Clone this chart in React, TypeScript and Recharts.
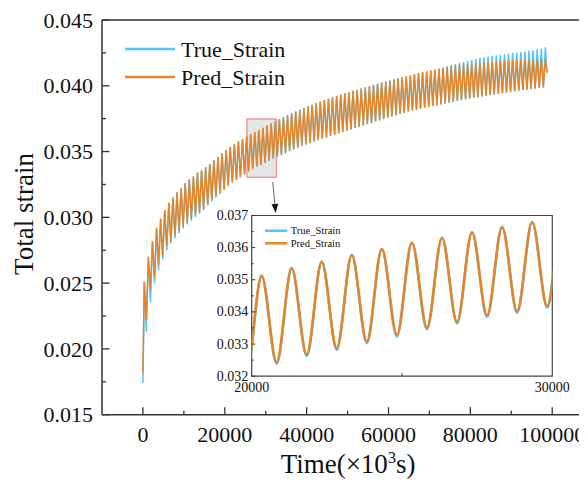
import React from 'react';
import { LineChart, Line, XAxis, YAxis, ReferenceArea, ReferenceLine, Legend } from 'recharts';

const TRUE_COLOR = '#4FC6F8';
const PRED_COLOR = '#E5852B';
const AXIS_COLOR = '#333333';
const FONT = '"Liberation Serif", "Times New Roman", serif';

// time layout of the loading cycles (x10^3 s)
const cyclePeriod = 1000;
const peakOffset = 330;
const troughOffset = 830;

const startTime = 0;
const startTrue = 0.0174;
const startPred = 0.0182;
const endTime = 98700;
const endTrue = 0.041;
const endPred = 0.041;

// peak strain of each cycle
const predPeaks = [
  0.0251, 0.027, 0.0282, 0.0292, 0.0299, 0.03055, 0.0311, 0.0315, 0.0319, 0.0322,
  0.0326, 0.0329, 0.0331, 0.0334, 0.0336, 0.0338, 0.03406, 0.03433, 0.03459, 0.03486,
  0.03512, 0.03536, 0.03556, 0.03577, 0.03596, 0.03616, 0.03631, 0.03648, 0.03664, 0.0368,
  0.03697, 0.03714, 0.0373, 0.03746, 0.03761, 0.03776, 0.0379, 0.03804, 0.03818, 0.03831,
  0.03844, 0.03856, 0.03868, 0.0388, 0.03891, 0.03902, 0.03913, 0.03923, 0.03933, 0.03943,
  0.03952, 0.03961, 0.0397, 0.03979, 0.03988, 0.03997, 0.04006, 0.04015, 0.04024, 0.04032,
  0.0404, 0.04048, 0.04056, 0.04064, 0.04072, 0.0408, 0.04088, 0.04096, 0.04104, 0.04111,
  0.04118, 0.04124, 0.0413, 0.04136, 0.04142, 0.04148, 0.04153, 0.04158, 0.04162, 0.04166,
  0.0417, 0.04173, 0.04176, 0.04179, 0.04182, 0.04184, 0.04187, 0.04189, 0.04191, 0.04193,
  0.04195, 0.04197, 0.04198, 0.042, 0.04201, 0.04202, 0.04203, 0.04204, 0.04205,
];
const truePeaks = [
  0.0251, 0.027, 0.0282, 0.0292, 0.0299, 0.03055, 0.0311, 0.0315, 0.0319, 0.0322,
  0.0326, 0.0329, 0.0331, 0.0334, 0.0336, 0.0338, 0.03406, 0.03433, 0.03459, 0.03486,
  0.03512, 0.03536, 0.03556, 0.03577, 0.03596, 0.03616, 0.03631, 0.03648, 0.03664, 0.0368,
  0.03697, 0.03714, 0.0373, 0.03746, 0.03761, 0.03776, 0.0379, 0.03804, 0.03818, 0.03831,
  0.03844, 0.03856, 0.03868, 0.0388, 0.03891, 0.03902, 0.03913, 0.03923, 0.03933, 0.03943,
  0.03952, 0.03961, 0.0397, 0.03979, 0.03988, 0.03997, 0.04006, 0.04015, 0.04024, 0.04032,
  0.0404, 0.04048, 0.04056, 0.04064, 0.04072, 0.0408, 0.04088, 0.04096, 0.04104, 0.04111,
  0.04118, 0.04124, 0.04132, 0.0414, 0.04149, 0.04158, 0.04166, 0.04174, 0.04182, 0.04189,
  0.04196, 0.04203, 0.0421, 0.04217, 0.04222, 0.04227, 0.04232, 0.04236, 0.0424, 0.04245,
  0.04249, 0.04253, 0.04257, 0.04262, 0.04267, 0.04272, 0.04278, 0.04284, 0.04292,
];
// valley strain of each cycle
const predTroughs = [
  0.0222, 0.0245, 0.0254, 0.0264, 0.0271, 0.0278, 0.0282, 0.0286, 0.02895, 0.0293,
  0.0296, 0.02988, 0.03015, 0.0304, 0.03065, 0.031, 0.0313, 0.03158, 0.03186, 0.03215,
  0.03244, 0.03268, 0.03287, 0.03308, 0.03329, 0.03351, 0.03369, 0.03389, 0.03402, 0.03418,
  0.03433, 0.03447, 0.03462, 0.03476, 0.0349, 0.03504, 0.03518, 0.03532, 0.03545, 0.03556,
  0.03567, 0.03578, 0.03588, 0.03599, 0.03609, 0.03619, 0.0363, 0.0364, 0.0365, 0.0366,
  0.0367, 0.0368, 0.0369, 0.037, 0.0371, 0.03719, 0.03729, 0.03738, 0.03748, 0.03758,
  0.03767, 0.03777, 0.03787, 0.03796, 0.03806, 0.03813, 0.0382, 0.03827, 0.03834, 0.0384,
  0.03847, 0.03854, 0.0386, 0.03867, 0.03873, 0.03881, 0.03887, 0.03893, 0.03899, 0.03904,
  0.0391, 0.03915, 0.0392, 0.03926, 0.03931, 0.03936, 0.0394, 0.03945, 0.0395, 0.03955,
  0.03959, 0.03964, 0.03968, 0.03972, 0.03976, 0.0398, 0.03984, 0.03988,
];
const trueTroughs = [
  0.0213, 0.02353, 0.025, 0.026, 0.0268, 0.0275, 0.028, 0.0284, 0.0288, 0.02915,
  0.02946, 0.02975, 0.03003, 0.03029, 0.03055, 0.0309, 0.0312, 0.03149, 0.03178, 0.03209,
  0.03239, 0.03263, 0.03282, 0.03303, 0.03324, 0.03346, 0.03364, 0.03384, 0.03397, 0.03413,
  0.03429, 0.03443, 0.03458, 0.03472, 0.03486, 0.035, 0.03514, 0.03528, 0.03541, 0.03552,
  0.03563, 0.03575, 0.03585, 0.03596, 0.03606, 0.03616, 0.03627, 0.03637, 0.03647, 0.03657,
  0.03667, 0.03677, 0.03687, 0.03697, 0.03707, 0.03716, 0.03726, 0.03735, 0.03745, 0.03755,
  0.03764, 0.03774, 0.03784, 0.03793, 0.03803, 0.0381, 0.03817, 0.03824, 0.03831, 0.03837,
  0.03844, 0.03851, 0.03857, 0.03864, 0.0387, 0.03878, 0.03884, 0.0389, 0.03896, 0.03901,
  0.03907, 0.03912, 0.03917, 0.03923, 0.03928, 0.03933, 0.03937, 0.03942, 0.03947, 0.03952,
  0.03956, 0.03961, 0.03965, 0.03969, 0.03973, 0.03977, 0.03981, 0.03985,
];

const mainXTicks = [0, 10000, 20000, 30000, 40000, 50000, 60000, 70000, 80000, 90000, 100000];
const mainXLabelTicks = [0, 20000, 40000, 60000, 80000, 100000];
const mainYTicks = [0.015, 0.0175, 0.02, 0.0225, 0.025, 0.0275, 0.03, 0.0325, 0.035, 0.0375, 0.04, 0.0425, 0.045];
const mainYLabelTicks = [0.015, 0.02, 0.025, 0.03, 0.035, 0.04, 0.045];
const insetXTicks = [20000, 25000, 30000];
const insetXLabelTicks = [20000, 30000];
const insetYTicks = [0.032, 0.0325, 0.033, 0.0335, 0.034, 0.0345, 0.035, 0.0355, 0.036, 0.0365, 0.037];
const insetYLabelTicks = [0.032, 0.033, 0.034, 0.035, 0.036, 0.037];

const seriesNames = ['True_Strain', 'Pred_Strain'];

// zoom window and arrow annotation (data coordinates)
const zoomBox = { x1: 25430, x2: 32620, y1: 0.03305, y2: 0.03748 };
const arrowSeg = [
  { x: 31710, y: 0.03269 },
  { x: 32440, y: 0.03033 },
];

type Row = { t: number; trueS: number; predS: number };

function buildRows(): Row[] {
  const rows: Row[] = [{ t: startTime, trueS: startTrue, predS: startPred }];
  for (let k = 0; k < predPeaks.length; k++) {
    rows.push({ t: peakOffset + k * cyclePeriod, trueS: truePeaks[k], predS: predPeaks[k] });
    if (k < predTroughs.length) {
      rows.push({ t: troughOffset + k * cyclePeriod, trueS: trueTroughs[k], predS: predTroughs[k] });
    }
  }
  rows.push({ t: endTime, trueS: endTrue, predS: endPred });
  return rows;
}

const rows = buildRows();
const insetRows = rows.filter((r) => r.t >= 19000 && r.t <= 31000);

const isIn = (arr: number[], v: number) => arr.some((a) => Math.abs(a - v) < 1e-9);

const txt = (size: number): React.CSSProperties => ({ fontFamily: FONT, fontSize: size, fill: '#111' });

const MainXTick = (p: any) => {
  const { x, y, payload } = p;
  const major = isIn(mainXLabelTicks, payload.value);
  return (
    <g>
      <line x1={x} y1={y} x2={x} y2={y - (major ? 7.5 : 4)} stroke={AXIS_COLOR} strokeWidth={1.3} />
      {major && (
        <text x={x} y={y + 26.8} textAnchor="middle" style={txt(22)}>
          {payload.value}
        </text>
      )}
    </g>
  );
};

const MainYTick = (p: any) => {
  const { x, y, payload } = p;
  const major = isIn(mainYLabelTicks, payload.value);
  return (
    <g>
      <line x1={x} y1={y} x2={x + (major ? 7.5 : 4)} y2={y} stroke={AXIS_COLOR} strokeWidth={1.3} />
      {major && (
        <text x={x - 9} y={y} dy="0.35em" textAnchor="end" style={txt(22)}>
          {Number(payload.value).toFixed(3)}
        </text>
      )}
    </g>
  );
};

const InsetXTick = (p: any) => {
  const { x, y, payload } = p;
  const labeled = isIn(insetXLabelTicks, payload.value);
  return (
    <g>
      {!labeled && <line x1={x} y1={y} x2={x} y2={y - 3} stroke={AXIS_COLOR} strokeWidth={1} />}
      {labeled && (
        <text x={x} y={y + 15.5} textAnchor="middle" style={txt(14)}>
          {payload.value}
        </text>
      )}
    </g>
  );
};

const InsetYTick = (p: any) => {
  const { x, y, payload } = p;
  const major = isIn(insetYLabelTicks, payload.value);
  return (
    <g>
      <line x1={x} y1={y} x2={x + (major ? 3.5 : 2)} y2={y} stroke={AXIS_COLOR} strokeWidth={1} />
      {major && (
        <text x={x - 3.4} y={y} dy="0.32em" textAnchor="end" style={txt(14)}>
          {Number(payload.value).toFixed(3)}
        </text>
      )}
    </g>
  );
};

const ArrowShape = (p: any) => {
  const { x1, y1, x2, y2 } = p;
  const ang = Math.atan2(y2 - y1, x2 - x1);
  const L = 9;
  const W = 3.3;
  const bx = x2 - L * Math.cos(ang);
  const by = y2 - L * Math.sin(ang);
  const px = -Math.sin(ang) * W;
  const py = Math.cos(ang) * W;
  return (
    <g>
      <line x1={x1} y1={y1} x2={bx} y2={by} stroke="#555" strokeWidth={0.9} />
      <polygon points={`${x2},${y2} ${bx + px},${by + py} ${bx - px},${by - py}`} fill="#111" />
    </g>
  );
};

const MainLegend = () => (
  <svg width={230} height={62} style={{ display: 'block' }}>
    <line x1={5} y1={19} x2={55} y2={19} stroke={TRUE_COLOR} strokeWidth={2.5} />
    <text x={61} y={26.5} style={txt(22)}>{seriesNames[0]}</text>
    <line x1={5} y1={47} x2={55} y2={47} stroke={PRED_COLOR} strokeWidth={2.5} />
    <text x={61} y={54.5} style={txt(22)}>{seriesNames[1]}</text>
  </svg>
);

const InsetLegend = () => (
  <svg width={110} height={30} style={{ display: 'block' }}>
    <line x1={3} y1={8.7} x2={25.3} y2={8.7} stroke={TRUE_COLOR} strokeWidth={2.5} />
    <text x={28.7} y={12.4} style={txt(10.5)}>{seriesNames[0]}</text>
    <line x1={3} y1={21.3} x2={25.3} y2={21.3} stroke={PRED_COLOR} strokeWidth={2.5} />
    <text x={28.7} y={25} style={txt(10.5)}>{seriesNames[1]}</text>
  </svg>
);

const XTitle = () => (
  <text x={340} y={465} textAnchor="middle" style={txt(27)}>
    Time(×10<tspan dy={-10} style={{ fontSize: 16 }}>3</tspan><tspan dy={10}>s)</tspan>
  </text>
);

const YTitle = () => (
  <text x={25} y={206} transform="rotate(-90, 25, 206)" textAnchor="middle" style={txt(27)}>
    Total strain
  </text>
);

export default function App() {
  return (
    <div style={{ position: 'relative', width: 579, height: 481, fontFamily: FONT }}>
      <LineChart width={579} height={481} data={rows} margin={{ top: 12, right: 0, bottom: 0, left: 0 }}>
        <XAxis
          type="number"
          dataKey="t"
          domain={[-10000, 108500]}
          allowDataOverflow
          ticks={mainXTicks}
          interval={0}
          height={74.3}
          tickSize={0}
          tickMargin={0}
          tickLine={false}
          tick={MainXTick}
          axisLine={{ stroke: AXIS_COLOR, strokeWidth: 1.5 }}
          label={XTitle}
        />
        <YAxis
          type="number"
          domain={[0.015, 0.045]}
          allowDataOverflow
          ticks={mainYTicks}
          interval={0}
          width={94}
          tickSize={0}
          tickMargin={0}
          tickLine={false}
          tick={MainYTick}
          axisLine={{ stroke: AXIS_COLOR, strokeWidth: 1.5 }}
          label={YTitle}
        />
        <ReferenceLine y={0.045} stroke={AXIS_COLOR} strokeWidth={1.5} ifOverflow="visible" />
        <Line
          type="linear"
          dataKey="trueS"
          name={seriesNames[0]}
          stroke={TRUE_COLOR}
          strokeWidth={1.5}
          dot={false}
          activeDot={false}
          isAnimationActive={false}
        />
        <Line
          type="linear"
          dataKey="predS"
          name={seriesNames[1]}
          stroke={PRED_COLOR}
          strokeWidth={1.5}
          dot={false}
          activeDot={false}
          isAnimationActive={false}
        />
        <ReferenceArea
          x1={zoomBox.x1}
          x2={zoomBox.x2}
          y1={zoomBox.y1}
          y2={zoomBox.y2}
          fill="#d9d9d9"
          fillOpacity={0.65}
          stroke="#F29C9C"
          strokeWidth={1.5}
          strokeOpacity={1}
          ifOverflow="visible"
        />
        <ReferenceLine segment={arrowSeg} shape={ArrowShape} ifOverflow="visible" />
        <Legend
          layout="vertical"
          align="center"
          verticalAlign="middle"
          content={MainLegend}
          wrapperStyle={{ left: 112, top: 22, width: 230, height: 62 }}
        />
      </LineChart>
      <div style={{ position: 'absolute', left: 172, top: 192 }}>
        <LineChart width={400} height={200} data={insetRows} margin={{ top: 15.5, right: 27.7, bottom: 0, left: 0 }}>
          <XAxis
            type="number"
            dataKey="t"
            domain={[20000, 30000]}
            allowDataOverflow
            ticks={insetXTicks}
            interval={0}
            height={23.8}
            tickSize={0}
            tickMargin={0}
            tickLine={false}
            tick={InsetXTick}
            axisLine={false}
          />
          <YAxis
            type="number"
            domain={[0.032, 0.037]}
            allowDataOverflow
            ticks={insetYTicks}
            interval={0}
            width={71.7}
            tickSize={0}
            tickMargin={0}
            tickLine={false}
            tick={InsetYTick}
            axisLine={false}
          />
          <Line
            type="monotone"
            dataKey="trueS"
            stroke={TRUE_COLOR}
            strokeWidth={2.6}
            dot={false}
            activeDot={false}
            isAnimationActive={false}
          />
          <Line
            type="monotone"
            dataKey="predS"
            stroke={PRED_COLOR}
            strokeWidth={2.6}
            dot={false}
            activeDot={false}
            isAnimationActive={false}
          />
          <ReferenceArea
            x1={20000}
            x2={30000}
            y1={0.032}
            y2={0.037}
            fill="none"
            fillOpacity={0}
            stroke="#444"
            strokeWidth={1.2}
            strokeOpacity={1}
            ifOverflow="visible"
          />
          <Legend
            layout="vertical"
            align="center"
            verticalAlign="middle"
            content={InsetLegend}
            wrapperStyle={{ left: 82, top: 22, width: 110, height: 30 }}
          />
        </LineChart>
      </div>
    </div>
  );
}
